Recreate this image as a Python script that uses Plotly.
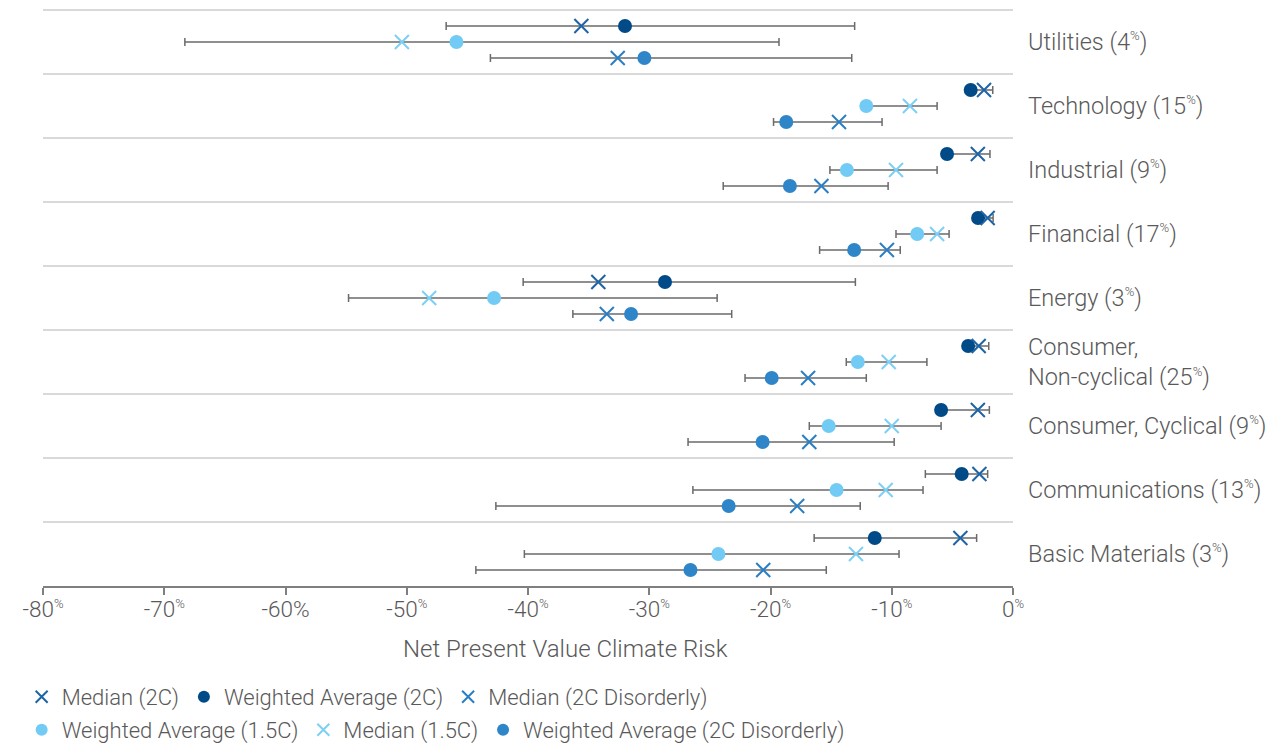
import numpy as np
import plotly.graph_objects as go

PCT = "<sup><span style='font-size:13px'>%</span></sup>"

# Categories, bottom to top
categories = [
    "Basic Materials (3" + PCT + ")",
    "Communications (13" + PCT + ")",
    "Consumer, Cyclical (9" + PCT + ")",
    "Consumer,<br>Non-cyclical (25" + PCT + ")",
    "Energy (3" + PCT + ")",
    "Financial (17" + PCT + ")",
    "Industrial (9" + PCT + ")",
    "Technology (15" + PCT + ")",
    "Utilities (4" + PCT + ")",
]

# 2C scenario
wa_2c = [-11.4, -4.23, -5.93, -3.7, -28.7, -2.88, -5.44, -3.49, -32.0]
med_2c = [-4.34, -2.77, -2.9, -2.83, -34.2, -2.09, -2.9, -2.39, -35.6]
min_2c = [-16.4, -7.23, -6.0, -3.8, -40.4, -2.95, -5.5, -3.6, -46.75]
max_2c = [-3.0, -2.09, -1.95, -2.0, -13.0, -1.64, -1.9, -1.67, -13.06]

# 1.5C scenario
wa_15c = [-24.3, -14.55, -15.2, -12.8, -42.8, -7.9, -13.7, -12.1, -45.9]
med_15c = [-12.95, -10.5, -10.0, -10.25, -48.15, -6.26, -9.65, -8.5, -50.4]
min_15c = [-40.3, -26.4, -16.8, -13.75, -54.8, -9.65, -15.1, -12.2, -68.3]
max_15c = [-9.4, -7.42, -5.93, -7.1, -24.4, -5.27, -6.26, -6.26, -19.3]

# 2C Disorderly scenario
wa_2cd = [-26.6, -23.45, -20.65, -19.9, -31.5, -13.1, -18.4, -18.7, -30.4]
med_2cd = [-20.6, -17.8, -16.8, -16.9, -33.5, -10.4, -15.8, -14.35, -32.6]
min_2cd = [-44.3, -42.65, -26.8, -22.1, -36.3, -15.95, -23.9, -19.75, -43.1]
max_2cd = [-15.4, -12.6, -9.8, -12.1, -23.2, -9.3, -10.3, -10.8, -13.3]

x_ticks = [-80, -70, -60, -50, -40, -30, -20, -10, 0]
x_ticktext = ["-80" + PCT, "-70" + PCT, "-60%", "-50" + PCT,
              "-40" + PCT, "-30" + PCT, "-20" + PCT,
              "-10" + PCT, "0" + PCT]

C_2C = "#004A87"
C_15C = "#72CBF4"
C_2CD = "#2E86C9"
C_MED_2C = "#1E64A6"
C_MED_15C = "#7DD0F5"
C_MED_2CD = "#2A7FC4"
ERR = "#6b6b6b"
TXT = "#595959"
FONT = "Roboto"

idx = np.arange(len(categories))
OFF = {"2c": 0.25, "15c": 0.0, "2cd": -0.25}

fig = go.Figure()


def wa_trace(name, wa, lo, hi, off, color, legend, rank):
    wa = np.array(wa)
    return go.Scatter(
        x=wa, y=idx + off, mode="markers", name=name,
        marker=dict(symbol="circle", size=14, color=color),
        error_x=dict(type="data", symmetric=False,
                     array=np.array(hi) - wa, arrayminus=wa - np.array(lo),
                     color=ERR, thickness=1.5, width=4),
        legend=legend, legendrank=rank,
    )


def med_trace(name, med, off, color, legend, rank):
    return go.Scatter(
        x=med, y=idx + off, mode="markers", name=name,
        marker=dict(symbol="x-thin", size=14, color=color,
                    line=dict(color=color, width=2)),
        legend=legend, legendrank=rank,
    )


fig.add_trace(wa_trace("Weighted Average (2C)", wa_2c, min_2c, max_2c, OFF["2c"], C_2C, "legend", 2))
fig.add_trace(wa_trace("Weighted Average (1.5C)", wa_15c, min_15c, max_15c, OFF["15c"], C_15C, "legend2", 1))
fig.add_trace(wa_trace("Weighted Average (2C Disorderly)", wa_2cd, min_2cd, max_2cd, OFF["2cd"], C_2CD, "legend2", 3))
fig.add_trace(med_trace("Median (2C)", med_2c, OFF["2c"], C_MED_2C, "legend", 1))
fig.add_trace(med_trace("Median (1.5C)", med_15c, OFF["15c"], C_MED_15C, "legend2", 2))
fig.add_trace(med_trace("Median (2C Disorderly)", med_2cd, OFF["2cd"], C_MED_2CD, "legend", 3))

legend_common = dict(orientation="h", xanchor="left", yanchor="middle",
                     font=dict(family=FONT, size=22, color=TXT, weight=300),
                     bgcolor="rgba(0,0,0,0)", itemsizing="constant",
                     tracegroupgap=0)

# plot area: x 43..1013, y 10..586 on screen; top margin 8 leaves room for top gridline
fig.update_layout(
    width=1275, height=744,
    margin=dict(l=43, r=262, t=8, b=158, autoexpand=False),
    paper_bgcolor="white", plot_bgcolor="white",
    font=dict(family=FONT, color=TXT, weight=300),
    legend=dict(x=-0.022, y=-0.192, **legend_common),
    legend2=dict(x=-0.022, y=-0.249, **legend_common),
    xaxis=dict(
        range=[-80, 0], tickmode="array", tickvals=x_ticks, ticktext=x_ticktext,
        showgrid=False, zeroline=False, showline=True, linecolor="#7f7f7f",
        linewidth=2, ticks="outside", ticklen=7, tickwidth=2, tickcolor="#7f7f7f",
        tickfont=dict(family=FONT, size=22.5, color=TXT, weight=300),
        ticklabelstandoff=-5, automargin=False,
    ),
    yaxis=dict(
        range=[-0.5, 8.5 + 2 / 64], side="right", tickmode="array", tickvals=idx,
        ticktext=categories, ticks="", showgrid=False, zeroline=False,
        showline=False, ticklabelstandoff=14, automargin=False,
        tickfont=dict(family=FONT, size=23.5, color=TXT, weight=300),
        minor=dict(tickmode="linear", tick0=0.5, dtick=1, showgrid=True,
                   gridcolor="#d9d9d9", gridwidth=1.5, ticks=""),
    ),
    annotations=[dict(
        text="Net Present Value Climate Risk", xref="paper", yref="paper",
        x=0.539, y=-0.109, xanchor="center", yanchor="middle", showarrow=False,
        font=dict(family=FONT, size=24, color=TXT, weight=300),
    )],
)

fig.write_html("out.html", config={"displayModeBar": False},
               post_script="document.body.style.margin='0';")
